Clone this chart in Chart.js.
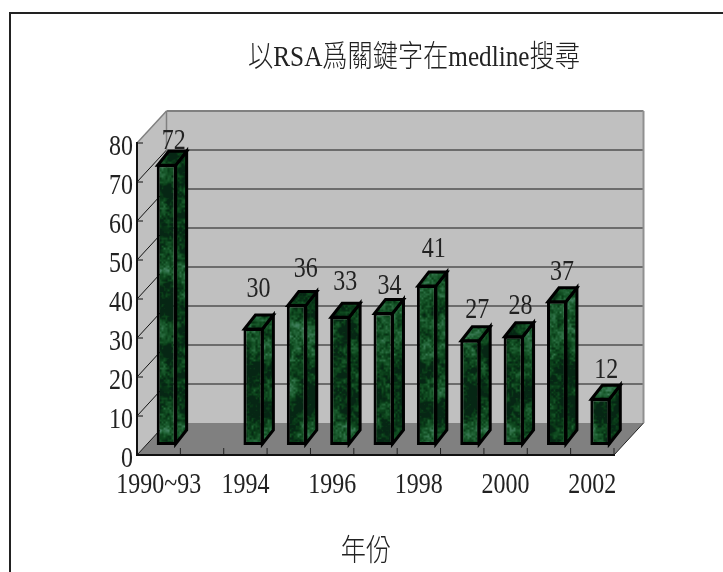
<!DOCTYPE html>
<html>
<head>
<meta charset="utf-8">
<style>
  html, body { margin: 0; padding: 0; background: #fff; overflow: hidden; }
  #frame { position: absolute; left: 9px; top: 12px; width: 714px; height: 560px;
           border-left: 2px solid #222; border-top: 2px solid #222; box-sizing: border-box; }
  canvas { position: absolute; left: 0; top: 0; }
</style>
<script src="https://cdn.jsdelivr.net/npm/chart.js@4"></script>
</head>
<body>
<div id="frame"></div>
<canvas id="chart" width="723" height="572"></canvas>
<script>
const years = ['1990~93', '', '1994', '1995', '1996', '1997', '1998', '1999', '2000', '2001', '2002'];
const articles = [72, null, 30, 36, 33, 34, 41, 27, 28, 37, 12];
const valueTicks = [0, 10, 20, 30, 40, 50, 60, 70, 80];

const chartTitle = '以RSA爲關鍵字在medline搜尋';
const axisTitle = '年份';

const SERIF = '"Liberation Serif", "Noto Sans CJK TC", serif';
const CJK = '300 30px "Liberation Serif", "Noto Sans CJK TC", serif';
const NARROW = 0.8;       // horizontal squeeze of the numerals
const NARROW_TITLE = 0.84; // horizontal squeeze of the titles

// Offsets of the oblique projection
const WALL = { dx: 29.5, dy: -32 };    // floor front edge to back wall
const BAR_SHIFT = { dx: 8, dy: -10 };  // front face of a column from the floor front edge
const BAR_DEPTH = { dx: 11, dy: -14 }; // front face of a column to its back face

// Hand placement of each value label relative to its column: [right, up]
const labelNudge = [[7, 23], null, [5, 39], [9, 35], [5, 34], [6, 26], [7, 36], [7, 30], [7, 30], [5, 29], [6, 28]];

// Mottled green stone fill, built from a small deterministic value noise
function stonePattern() {
  const size = 160;
  const c = document.createElement('canvas');
  c.width = c.height = size;
  const g = c.getContext('2d');
  const img = g.createImageData(size, size);
  const hash = (x, y) => {
    const s = Math.sin(x * 127.1 + y * 311.7) * 43758.5453;
    return s - Math.floor(s);
  };
  const smooth = t => t * t * (3 - 2 * t);
  const noise = (x, y, period) => {
    const x0 = Math.floor(x), y0 = Math.floor(y);
    const fx = smooth(x - x0), fy = smooth(y - y0);
    const at = (a, b) => hash((a + period) % period, (b + period) % period);
    const top = at(x0, y0) * (1 - fx) + at(x0 + 1, y0) * fx;
    const bot = at(x0, y0 + 1) * (1 - fx) + at(x0 + 1, y0 + 1) * fx;
    return top * (1 - fy) + bot * fy;
  };
  for (let y = 0; y < size; y++) {
    for (let x = 0; x < size; x++) {
      const v = 0.55 * noise(x / 20, y / 20, 8) + 0.3 * noise(x / 5, y / 5, 32) + 0.3 * noise(x / 2, y / 2, 80);
      const t = Math.max(0, Math.min(1, (v - 0.4) / 0.6));
      const i = (y * size + x) * 4;
      img.data[i] = 6 + 60 * t * t;
      img.data[i + 1] = 38 + 90 * t;
      img.data[i + 2] = 20 + 75 * t * t;
      img.data[i + 3] = 255;
    }
  }
  g.putImageData(img, 0, 0);
  return document.getElementById('chart').getContext('2d').createPattern(c, 'repeat');
}
const stone = stonePattern();

function polygon(ctx, pts, fill, stroke, lw) {
  ctx.beginPath();
  pts.forEach((p, i) => i ? ctx.lineTo(p[0], p[1]) : ctx.moveTo(p[0], p[1]));
  ctx.closePath();
  if (fill) { ctx.fillStyle = fill; ctx.fill(); }
  if (stroke) { ctx.strokeStyle = stroke; ctx.lineWidth = lw; ctx.lineJoin = 'miter'; ctx.stroke(); }
}

function line(ctx, x1, y1, x2, y2, color, lw) {
  ctx.beginPath();
  ctx.moveTo(x1, y1);
  ctx.lineTo(x2, y2);
  ctx.strokeStyle = color;
  ctx.lineWidth = lw;
  ctx.stroke();
}

// Squeezed text around an anchor point
function narrowText(ctx, text, x, y, squeeze) {
  ctx.save();
  ctx.translate(x, y);
  ctx.scale(squeeze, 1);
  ctx.fillText(text, 0, 0);
  ctx.restore();
}

// Axis labels keep the scale's own placement but are painted squeezed
function squeezeAxisLabels(scale) {
  scale.drawLabels = function (area) {
    const ctx = this.ctx;
    ctx.save();
    this.getLabelItems(area).forEach(item => {
      const o = item.options;
      ctx.font = item.font.string;
      ctx.fillStyle = o.color;
      ctx.textAlign = o.textAlign;
      ctx.textBaseline = o.textBaseline;
      narrowText(ctx, item.label, o.translation[0], o.translation[1] + item.textOffset, NARROW);
    });
    ctx.restore();
  };
}

// Walls, floor, value lines and inner tick marks
const roomPlugin = {
  id: 'room',
  beforeDraw(chart) {
    const { ctx, scales: { x, y } } = chart;
    squeezeAxisLabels(x);
    squeezeAxisLabels(y);
    const left = x.left, right = x.right;
    const zero = y.getPixelForValue(0), top = y.getPixelForValue(80);
    const { dx, dy } = WALL;
    ctx.save();
    polygon(ctx, [[left, zero], [left + dx, zero + dy], [left + dx, top + dy], [left, top]], '#c0c0c0');
    polygon(ctx, [[left + dx, zero + dy], [right + dx, zero + dy], [right + dx, top + dy], [left + dx, top + dy]], '#c0c0c0');
    polygon(ctx, [[left, zero], [right, zero], [right + dx, zero + dy], [left + dx, zero + dy]], '#808080');

    valueTicks.forEach(v => {
      const py = y.getPixelForValue(v);
      if (v > 0 && v < 80) line(ctx, left + dx, py + dy, right + dx, py + dy, '#505050', 1.5);
      if (v < 80) line(ctx, left, py, left + dx, py + dy, '#111', 1);
      line(ctx, left, py, left + 6, py, '#111', 1);
    });
    line(ctx, left + dx, zero + dy, left + dx, top + dy, '#808080', 1.5);
    line(ctx, left + dx, top + dy, right + dx, top + dy, '#808080', 2);
    line(ctx, right + dx, top + dy, right + dx, zero + dy, '#909090', 2);
    line(ctx, left, top, left + dx, top + dy, '#808080', 1.5);
    line(ctx, right, zero, right + dx, zero + dy, '#222', 1);

    const step = (right - left) / years.length;
    years.forEach((_, i) => {
      const px = x.getPixelForValue(i) + step / 2;
      line(ctx, px, zero - 7, px, zero, '#222', 1);
    });
    ctx.restore();
  }
};

// Side and top faces of the columns, and the shift of the front faces off the floor edge
const columnPlugin = {
  id: 'columns',
  beforeDatasetDraw(chart, args) {
    const { ctx } = chart;
    const { dx, dy } = BAR_DEPTH;
    ctx.save();
    ctx.translate(BAR_SHIFT.dx, BAR_SHIFT.dy);
    args.meta.data.forEach((bar, i) => {
      if (articles[i] === null) return;
      const l = bar.x - bar.width / 2 + 1, r = bar.x + bar.width / 2 - 1;
      const t = bar.y + 1, b = bar.base - 1;
      polygon(ctx, [[r, t], [r + dx, t + dy], [r + dx, b + dy], [r, b]], stone, '#000', 3);
      polygon(ctx, [[l, t], [l + dx, t + dy], [r + dx, t + dy], [r, t]], stone, '#000', 3);
    });
  },
  afterDatasetDraw(chart) {
    chart.ctx.restore();
  },
  afterDatasetsDraw(chart) {
    const { ctx } = chart;
    const meta = chart.getDatasetMeta(0);
    ctx.save();
    ctx.font = '30px ' + SERIF;
    ctx.fillStyle = '#222';
    ctx.textAlign = 'center';
    ctx.textBaseline = 'middle';
    meta.data.forEach((bar, i) => {
      if (articles[i] === null) return;
      const [right, up] = labelNudge[i];
      narrowText(ctx, String(articles[i]), bar.x + BAR_SHIFT.dx + right, bar.y + BAR_SHIFT.dy - up, NARROW);
    });
    ctx.font = CJK;
    narrowText(ctx, chartTitle, 414, 58, NARROW_TITLE);
    narrowText(ctx, axisTitle, 366, 552, NARROW_TITLE);
    ctx.restore();
  }
};

new Chart(document.getElementById('chart'), {
  type: 'bar',
  data: {
    labels: years,
    datasets: [{
      data: articles,
      backgroundColor: stone,
      borderColor: '#000',
      borderWidth: 3,
      borderSkipped: false,
      barPercentage: 0.46,
      categoryPercentage: 1,
      clip: false
    }]
  },
  options: {
    responsive: false,
    animation: false,
    events: [],
    layout: { padding: { top: 143, right: 109, left: 0, bottom: 0 } },
    plugins: { legend: { display: false }, tooltip: { enabled: false }, title: { display: false } },
    scales: {
      x: {
        type: 'category',
        grid: { display: false, drawTicks: false },
        border: { color: '#111', width: 2 },
        afterFit(s) { s.height = 117; },
        ticks: {
          autoSkip: false,
          maxRotation: 0,
          padding: 12,
          color: '#222',
          font: { family: SERIF, size: 30 },
          callback(value, i) { return i % 2 === 0 ? years[i] : ''; }
        }
      },
      y: {
        min: 0,
        max: 80,
        grid: { display: false, drawTicks: false },
        border: { color: '#111', width: 2 },
        afterFit(s) { s.width = 137; },
        afterBuildTicks(s) { s.ticks = valueTicks.map(value => ({ value })); },
        ticks: {
          padding: 4,
          labelOffset: 4,
          color: '#222',
          font: { family: SERIF, size: 30 }
        }
      }
    }
  },
  plugins: [roomPlugin, columnPlugin]
});
</script>
</body>
</html>
